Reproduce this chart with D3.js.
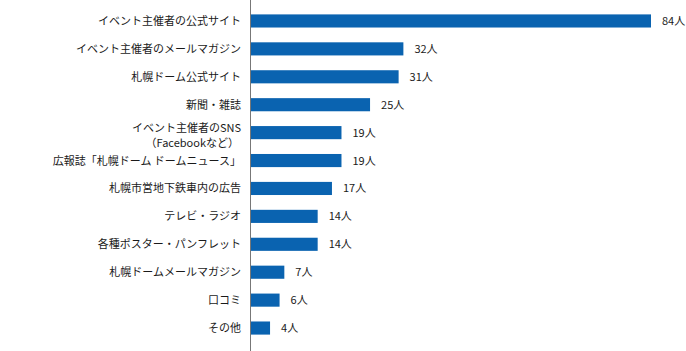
<!DOCTYPE html>
<html>
<head>
<meta charset="utf-8">
<script src="https://cdnjs.cloudflare.com/ajax/libs/d3/7.8.5/d3.min.js"></script>
<style>
body { margin: 0; background: #fff; }
text { font-family: "Noto Sans CJK JP", sans-serif; font-size: 11px; fill: #1a1a1a; }
</style>
</head>
<body>
<div id="chart"></div>
<script>
var categories = [
	["イベント主催者の公式サイト"],
	["イベント主催者のメールマガジン"],
	["札幌ドーム公式サイト"],
	["新聞・雑誌"],
	["イベント主催者のSNS", "（Facebookなど）"],
	["広報誌「札幌ドーム ドームニュース」"],
	["札幌市営地下鉄車内の広告"],
	["テレビ・ラジオ"],
	["各種ポスター・パンフレット"],
	["札幌ドームメールマガジン"],
	["口コミ"],
	["その他"]
];
var values = [84, 32, 31, 25, 19, 19, 17, 14, 14, 7, 6, 4];
var unit = "人";

var width = 686, height = 351,
	axisX = 251;

var svg = d3.select("#chart").append("svg")
	.attr("width", width)
	.attr("height", height);

var yScale = d3.scaleBand()
	.domain(d3.range(values.length))
	.range([7, 342])
	.paddingInner(0.53)
	.paddingOuter(0.265);

var xScale = d3.scaleLinear()
	.domain([0, 84])
	.range([axisX, 651]);

svg.selectAll("rect")
	.data(values)
	.enter()
	.append("rect")
	.attr("x", xScale(0))
	.attr("y", function(d, i) { return yScale(i); })
	.attr("width", function(d) { return xScale(d) - xScale(0); })
	.attr("height", yScale.bandwidth())
	.attr("fill", "#0a63b0");

//axis line
svg.append("line")
	.attr("x1", axisX - 0.5)
	.attr("x2", axisX - 0.5)
	.attr("y1", 0)
	.attr("y2", height)
	.attr("stroke", "#777")
	.attr("stroke-width", 1);

// category labels, two-line ones get stacked as separate texts
var lines = [];
categories.forEach(function(c, i) {
	c.forEach(function(t, j) {
		lines.push({ text: t, i: i, j: j, n: c.length });
	});
});

svg.selectAll(".label_text")
	.data(lines)
	.enter()
	.append("text")
	.attr("class", "label_text")
	.attr("text-anchor", "end")
	.attr("x", function(d) { return d.j == 0 ? 241 : 239; })
	.attr("y", function(d) {
		var mid = yScale(d.i) + yScale.bandwidth() / 2;
		if (d.n == 1) return mid + 4;
		return mid - 1 + d.j * 15;
	})
	.text(function(d) { return d.text; });

svg.selectAll(".value_text")
	.data(values)
	.enter()
	.append("text")
	.attr("class", "value_text")
	.attr("x", function(d) { return xScale(d) + 11; })
	.attr("y", function(d, i) { return yScale(i) + yScale.bandwidth() / 2 + 4; })
	.text(function(d) { return d + unit; });
</script>
</body>
</html>
